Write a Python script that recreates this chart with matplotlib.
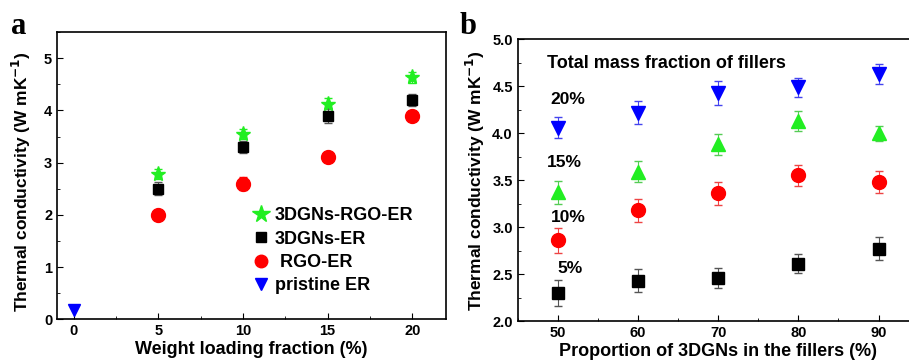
import numpy as np
import matplotlib.pyplot as plt
from matplotlib.ticker import MultipleLocator
from matplotlib.lines import Line2D

plt.rcParams['font.family'] = ['Liberation Sans', 'DejaVu Sans']
plt.rcParams['font.weight'] = 'bold'
plt.rcParams['mathtext.default'] = 'bf'

# panel a data
load = [5, 10, 15, 20]
rgo3d = [2.78, 3.55, 4.13, 4.63]
rgo3d_err = [0.1, 0.1, 0.1, 0.1]
gn3d = [2.5, 3.3, 3.9, 4.2]
gn3d_err = [0.12, 0.12, 0.15, 0.12]
rgo = [2.0, 2.6, 3.1, 3.9]
rgo_err = [0.08, 0.12, 0.08, 0.08]
pristine_x = [0]
pristine = [0.18]
labels_a = ['3DGNs-RGO-ER', '3DGNs-ER', ' RGO-ER', 'pristine ER']

# panel b data
prop = [50, 60, 70, 80, 90]
f5 = [2.30, 2.43, 2.46, 2.61, 2.77]
f5_err = [0.14, 0.12, 0.11, 0.10, 0.12]
f10 = [2.86, 3.18, 3.36, 3.55, 3.48]
f10_err = [0.13, 0.12, 0.12, 0.11, 0.12]
f15 = [3.37, 3.59, 3.88, 4.13, 4.00]
f15_err = [0.12, 0.11, 0.11, 0.11, 0.08]
f20 = [4.06, 4.22, 4.43, 4.49, 4.63]
f20_err = [0.11, 0.12, 0.13, 0.10, 0.11]

fig = plt.figure(figsize=(9.09, 3.6), dpi=100)
ylab = 'Thermal conductivity (W mK$^{\\mathbf{-1}}$)'

ax1 = fig.add_axes([0.0627, 0.113, 0.428, 0.798])
ax1.errorbar(load, rgo3d, yerr=rgo3d_err, fmt='*', color='#22ee22', ms=11, capsize=3, elinewidth=0.8)
ax1.errorbar(load, gn3d, yerr=gn3d_err, fmt='s', color='black', ms=7, capsize=3, elinewidth=0.8,
             ecolor='#555555')
ax1.errorbar(load, rgo, yerr=rgo_err, fmt='o', color='red', ms=10, capsize=3, elinewidth=0.8)
ax1.plot(pristine_x, pristine, 'v', color='blue', ms=8, ls='none')
ax1.set_xlim(-1, 22)
ax1.set_ylim(0, 5.5)
ax1.set_xticks([0, 5, 10, 15, 20])
ax1.xaxis.set_minor_locator(MultipleLocator(2.5))
ax1.yaxis.set_major_locator(MultipleLocator(1))
ax1.yaxis.set_minor_locator(MultipleLocator(0.5))
ax1.set_xlabel('Weight loading fraction (%)', fontsize=13, fontweight='bold', labelpad=2)
ax1.set_ylabel(ylab, fontsize=12.5, fontweight='bold')
ax1.yaxis.set_label_coords(-0.062, 0.48)
handles = [Line2D([], [], marker='*', color='#22ee22', ls='none', ms=13),
           Line2D([], [], marker='s', color='black', ls='none', ms=7),
           Line2D([], [], marker='o', color='red', ls='none', ms=9),
           Line2D([], [], marker='v', color='blue', ls='none', ms=8)]
ax1.legend(handles, labels_a, loc='upper left', bbox_to_anchor=(0.5, 0.39), frameon=False, fontsize=13,
           handletextpad=0.3, labelspacing=0.35, handlelength=1.0, borderpad=0, borderaxespad=0)
fig.text(0.012, 0.905, 'a', fontsize=22, fontweight='bold', family='Liberation Serif')

ax2 = fig.add_axes([0.5695, 0.108, 0.4411, 0.783])
ax2.errorbar(prop, f5, yerr=f5_err, fmt='s', color='black', ms=9, capsize=3, elinewidth=0.8,
             ecolor='#555555')
ax2.errorbar(prop, f10, yerr=f10_err, fmt='o', color='red', ms=10, capsize=3, elinewidth=0.8,
             ecolor='#ee4444')
ax2.errorbar(prop, f15, yerr=f15_err, fmt='^', color='#22ee22', ms=10, capsize=3, elinewidth=0.8,
             ecolor='#55cc55')
ax2.errorbar(prop, f20, yerr=f20_err, fmt='v', color='blue', ms=10, capsize=3, elinewidth=0.8,
             ecolor='#4444ee')
ax2.set_xlim(45, 95)
ax2.set_ylim(2.0, 5.0)
ax2.set_xticks(prop)
ax2.xaxis.set_minor_locator(MultipleLocator(5))
ax2.yaxis.set_major_locator(MultipleLocator(0.5))
ax2.yaxis.set_minor_locator(MultipleLocator(0.25))
ax2.yaxis.set_major_formatter(plt.FormatStrFormatter('%.1f'))
ax2.set_xlabel('Proportion of 3DGNs in the fillers (%)', fontsize=13, fontweight='bold', labelpad=2)
ax2.set_ylabel(ylab, fontsize=12.5, fontweight='bold')
ax2.text(48.7, 4.74, 'Total mass fraction of fillers', fontsize=13, fontweight='bold', va='center')
ax2.text(49.1, 4.36, '20%', fontsize=12.5, fontweight='bold', va='center')
ax2.text(48.7, 3.69, '15%', fontsize=12.5, fontweight='bold', va='center')
ax2.text(49.1, 3.10, '10%', fontsize=12.5, fontweight='bold', va='center')
ax2.text(49.9, 2.56, '5%', fontsize=12.5, fontweight='bold', va='center')
fig.text(0.506, 0.905, 'b', fontsize=22, fontweight='bold', family='Liberation Serif')

for ax in (ax1, ax2):
    ax.tick_params(which='both', direction='in', top=False, right=False, labelsize=10.5)
    ax.tick_params(which='major', length=4)
    ax.tick_params(which='minor', length=2.5)
    for s in ax.spines.values():
        s.set_linewidth(1.2)
    for t in ax.get_xticklabels() + ax.get_yticklabels():
        t.set_fontweight('bold')

fig.savefig('out.png', dpi=100)
